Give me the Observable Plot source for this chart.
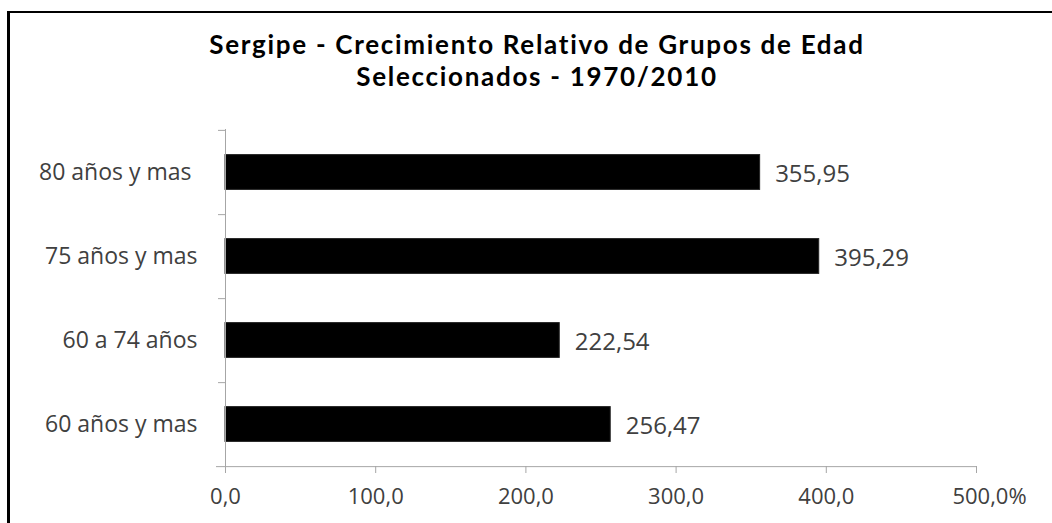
<!DOCTYPE html>
<html>
<head>
<meta charset="utf-8">
<script src="https://cdn.jsdelivr.net/npm/d3@7"></script>
<script src="https://cdn.jsdelivr.net/npm/@observablehq/plot@0.6"></script>
<style>
  html, body { margin: 0; padding: 0; background: #fff; }
  #page { position: relative; width: 1052px; height: 523px; overflow: hidden; background: #fff; }
  #frame { position: absolute; left: 7px; top: 11px; width: 1100px; height: 600px;
           border-top: 2px solid #000; border-left: 3px solid #000; box-sizing: border-box; pointer-events: none; }
  #title { position: relative; box-sizing: border-box; width: 1052px; height: 110px; padding-top: 29px; padding-left: 22px;
           text-align: center; font-family: Lato, "Open Sans", sans-serif; font-weight: bold; font-size: 26px; letter-spacing: 1.7px; color: #000; }
  #title div { height: 31.5px; line-height: 31.5px; white-space: nowrap; }
  #chart svg text { white-space: pre; }
</style>
</head>
<body>
<div id="page">
  <div id="frame"></div>
  <div id="title"><div>Sergipe - Crecimiento Relativo de Grupos de Edad</div><div>Seleccionados - 1970/2010</div></div>
  <div id="chart"></div>
</div>
<script>
const categories = ["80 años y mas ", "75 años y mas", "60 a 74 años", "60 años y mas"];
const values = [355.95, 395.29, 222.54, 256.47];
const valueLabels = ["355,95", "395,29", "222,54", "256,47"];
const xTicks = [0, 100, 200, 300, 400, 500];
const xTickLabels = ["0,0", "100,0", "200,0", "300,0", "400,0", "500,0%"];

const data = categories.map((c, i) => ({group: c, value: values[i], label: valueLabels[i]}));

const W = 1052, H = 413, mL = 225, mR = 76, mT = 19, mB = 57;
const step = (H - mT - mB) / categories.length;
const pxPerUnit = (W - mL - mR) / 500;
const tickLen = 7 / pxPerUnit;
const axisColor = "#a6a6a6";
const textColor = "#404040";
const font = "Open Sans, sans-serif";

const chart = Plot.plot({
  width: W, height: H,
  marginLeft: mL, marginRight: mR, marginTop: mT, marginBottom: mB,
  style: {fontFamily: font, background: "transparent"},
  x: {domain: [0, 500]},
  y: {domain: categories, padding: 0},
  marks: [
    Plot.barX(data, {y: "group", x: "value", fill: "#000", stroke: "#222", strokeWidth: 1, insetTop: 24.6, insetBottom: 24.6}),
    Plot.text(data, {y: "group", x: "value", text: "label", textAnchor: "start", dx: 15, dy: 2, fontSize: 24, fill: textColor}),
    Plot.ruleX([0], {stroke: axisColor, strokeWidth: 1}),
    Plot.ruleY([categories[0]], {y: d => d, x1: -tickLen, x2: 0, dy: -step / 2, stroke: axisColor}),
    Plot.ruleY(categories.slice(0, 3), {y: d => d, x1: -tickLen, x2: 0, dy: step / 2, stroke: axisColor}),
    Plot.ruleY([categories[3]], {y: d => d, x1: -9 / pxPerUnit, x2: 500, dy: step / 2, stroke: axisColor}),
    Plot.axisX({ticks: xTicks, tickSize: 7, tickFormat: () => "", stroke: axisColor, label: null}),
    Plot.text(xTicks.slice(0, 5), {x: d => d, text: (d, i) => xTickLabels[i], frameAnchor: "bottom", lineAnchor: "top", dy: 22, fontSize: 22, fill: textColor}),
    Plot.text(xTicks.slice(5), {x: d => d, text: () => xTickLabels[5], frameAnchor: "bottom", lineAnchor: "top", dy: 22, dx: 13, fontSize: 22, fill: textColor}),
    Plot.axisY({tickSize: 0, tickPadding: 28, fontSize: 23, fill: textColor, label: null})
  ]
});
document.getElementById("chart").appendChild(chart);
</script>
</body>
</html>
